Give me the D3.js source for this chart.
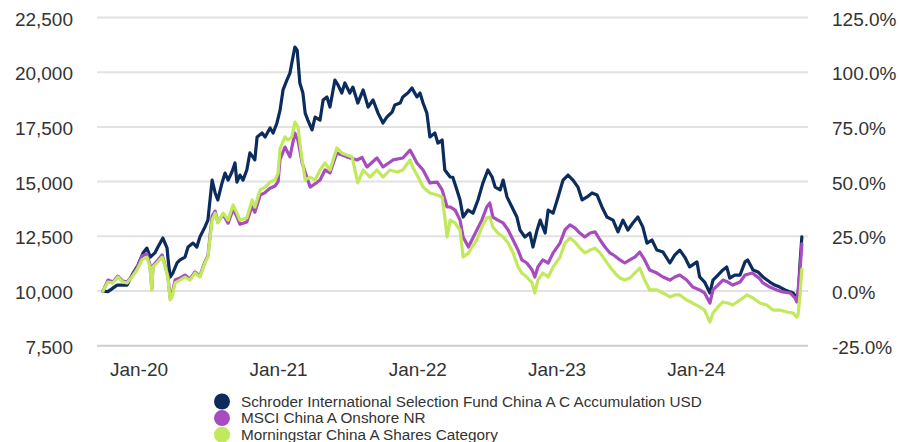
<!DOCTYPE html>
<html>
<head>
<meta charset="utf-8">
<script src="https://cdn.jsdelivr.net/npm/d3@7"></script>
<style>
  body { margin: 0; background: #fff; }
  svg { display: block; font-family: "Liberation Sans", Arial, sans-serif; }
</style>
</head>
<body>
<svg width="899" height="442"></svg>
<script>
// growth of 10,000 (USD)
const schroder = [
  ["2019-09-30",10000],["2019-10-13",9970],["2019-11-06",10270],["2019-12-02",10270],["2019-12-18",10820],
  ["2019-12-31",11190],["2020-01-13",11740],["2020-01-23",11960],["2020-02-01",11550],["2020-02-13",11740],
  ["2020-02-21",12010],["2020-03-05",12420],["2020-03-16",11960],["2020-03-18",11550],["2020-03-24",10640],
  ["2020-03-31",10820],["2020-04-11",11280],["2020-04-19",11420],["2020-05-02",11550],["2020-05-10",12010],
  ["2020-05-23",12190],["2020-06-02",12010],["2020-06-10",12470],["2020-06-23",12920],["2020-07-01",13240],
  ["2020-07-12",15070],["2020-07-20",14480],["2020-07-27",14160],["2020-08-07",14940],["2020-08-15",15390],
  ["2020-08-23",15070],["2020-09-02",15440],["2020-09-10",15850],["2020-09-15",14980],["2020-09-23",15300],
  ["2020-10-01",15070],["2020-10-11",15530],["2020-10-19",16310],["2020-10-27",16130],["2020-11-01",15990],
  ["2020-11-07",17040],["2020-11-20",17220],["2020-11-28",17040],["2020-12-11",17450],["2020-12-19",17220],
  ["2020-12-29",17680],["2021-01-06",18250],["2021-01-14",19190],["2021-01-24",19640],["2021-02-01",19960],
  ["2021-02-06",20420],["2021-02-14",21150],["2021-02-20",21010],["2021-02-27",19510],["2021-03-07",19050],
  ["2021-03-13",18130],["2021-03-20",17810],["2021-03-31",17360],["2021-04-08",17950],["2021-04-21",17810],
  ["2021-04-29",18730],["2021-05-09",18870],["2021-05-17",18410],["2021-05-30",19640],["2021-06-07",19420],
  ["2021-06-17",19050],["2021-06-25",19510],["2021-07-08",19050],["2021-07-16",19320],["2021-07-29",18590],
  ["2021-08-12",19190],["2021-08-25",18410],["2021-09-07",18730],["2021-09-20",18130],["2021-10-03",17680],
  ["2021-10-13",17950],["2021-10-27",18180],["2021-11-03",18500],["2021-11-17",18590],["2021-11-24",18870],
  ["2021-12-07",19050],["2021-12-18",19280],["2021-12-31",18870],["2022-01-08",19050],["2022-01-16",18590],
  ["2022-01-26",18130],["2022-02-03",17040],["2022-02-16",17220],["2022-02-24",16760],["2022-03-07",16900],
  ["2022-03-14",15530],["2022-03-28",15210],["2022-04-04",15200],["2022-04-15",14600],["2022-04-23",14160],
  ["2022-05-01",13380],["2022-05-14",13700],["2022-05-27",13560],["2022-06-09",14160],["2022-06-22",14940],
  ["2022-07-05",15530],["2022-07-16",15210],["2022-07-24",14750],["2022-08-06",14620],["2022-08-14",15070],
  ["2022-08-24",14300],["2022-09-06",13840],["2022-09-19",13380],["2022-09-27",12790],["2022-10-10",12470],
  ["2022-10-23",12650],["2022-10-31",12010],["2022-11-11",12790],["2022-11-19",13240],["2022-12-02",12650],
  ["2022-12-10",13700],["2022-12-23",13560],["2023-01-05",14300],["2023-01-18",15070],["2023-01-31",15300],
  ["2023-02-13",15070],["2023-02-26",14750],["2023-03-09",14160],["2023-03-22",14300],["2023-04-04",14480],
  ["2023-04-17",14390],["2023-04-30",13840],["2023-05-13",13380],["2023-05-29",13240],["2023-06-11",12700],
  ["2023-06-24",13240],["2023-07-07",12790],["2023-07-20",13110],["2023-08-02",13380],["2023-08-15",12930],
  ["2023-08-26",12190],["2023-09-08",12330],["2023-09-21",11870],["2023-10-07",11780],["2023-10-25",11280],
  ["2023-11-07",11650],["2023-11-20",11870],["2023-12-03",11550],["2023-12-16",11100],["2024-01-04",11330],
  ["2024-01-11",10640],["2024-01-24",10410],["2024-02-07",9910],["2024-02-15",10500],["2024-02-28",10730],
  ["2024-03-12",10960],["2024-03-22",11100],["2024-03-30",10590],["2024-04-12",10730],["2024-04-26",10730],
  ["2024-05-09",11330],["2024-05-16",11420],["2024-05-30",10960],["2024-06-12",10870],["2024-06-25",10640],
  ["2024-07-13",10410],["2024-07-26",10270],["2024-08-08",10180],["2024-08-22",10050],["2024-09-04",9960],
  ["2024-09-12",9910],["2024-09-22",9680],["2024-09-25",9730],["2024-09-30",11200],["2024-10-05",12470]
];

const msci = [
  ["2019-09-30",10000],["2019-10-13",10500],["2019-10-26",10410],["2019-11-08",10680],["2019-11-21",10450],
  ["2019-12-02",10410],["2019-12-15",10680],["2019-12-28",11050],["2020-01-10",11600],["2020-01-23",11690],
  ["2020-01-31",11200],["2020-02-05",10100],["2020-02-08",11150],["2020-02-21",11420],["2020-03-03",11650],
  ["2020-03-11",11150],["2020-03-18",10700],["2020-03-24",9700],["2020-03-29",9850],["2020-04-06",10500],
  ["2020-04-19",10600],["2020-05-02",10730],["2020-05-15",10550],["2020-05-28",10870],["2020-06-10",10680],
  ["2020-06-23",11330],["2020-07-01",11600],["2020-07-12",13420],["2020-07-20",13650],["2020-07-27",13150],
  ["2020-08-10",13500],["2020-08-23",13100],["2020-09-05",13750],["2020-09-15",13400],["2020-09-23",13050],
  ["2020-10-11",13150],["2020-10-25",13900],["2020-11-01",13600],["2020-11-15",14380],["2020-11-28",14500],
  ["2020-12-11",14700],["2020-12-24",14800],["2021-01-01",15000],["2021-01-06",16000],["2021-01-19",16580],
  ["2021-02-01",16130],["2021-02-14",17220],["2021-02-22",16900],["2021-03-05",15850],["2021-03-26",14750],
  ["2021-04-08",14900],["2021-04-21",15070],["2021-05-04",15530],["2021-05-17",15400],["2021-06-04",16310],
  ["2021-06-30",16130],["2021-07-27",15990],["2021-08-09",16100],["2021-08-22",15670],["2021-09-17",16080],
  ["2021-10-03",15670],["2021-10-29",15990],["2021-11-24",16080],["2021-12-13",16440],["2021-12-31",15850],
  ["2022-01-16",15530],["2022-02-03",14940],["2022-02-22",14980],["2022-03-07",14620],["2022-03-20",13840],
  ["2022-03-28",13840],["2022-04-10",13700],["2022-04-23",13240],["2022-05-01",12470],["2022-05-15",12010],
  ["2022-05-24",12330],["2022-06-06",12790],["2022-06-19",13240],["2022-07-02",13840],["2022-07-10",14020],
  ["2022-07-18",13380],["2022-07-31",13240],["2022-08-14",13110],["2022-08-27",12790],["2022-09-09",12330],
  ["2022-09-22",11870],["2022-10-02",11420],["2022-10-15",11280],["2022-10-29",10960],["2022-11-05",10640],
  ["2022-11-13",11100],["2022-11-26",11420],["2022-12-10",11280],["2022-12-23",11740],["2023-01-10",12190],
  ["2023-01-23",12790],["2023-02-05",13020],["2023-02-18",12880],["2023-03-03",12650],["2023-03-16",12470],
  ["2023-03-30",12650],["2023-04-12",12700],["2023-04-25",12330],["2023-05-08",12010],["2023-05-21",11740],
  ["2023-06-03",11600],["2023-06-16",11420],["2023-06-29",11280],["2023-07-12",11420],["2023-07-25",11550],
  ["2023-08-07",11780],["2023-08-20",11420],["2023-09-02",10960],["2023-09-21",10820],["2023-10-07",10640],
  ["2023-10-25",10500],["2023-11-07",10640],["2023-11-20",10730],["2023-12-08",10500],["2023-12-24",10180],
  ["2024-01-11",10050],["2024-01-24",9910],["2024-02-07",9450],["2024-02-15",10050],["2024-02-28",10270],
  ["2024-03-12",10500],["2024-03-25",10410],["2024-04-07",10270],["2024-04-26",10410],["2024-05-09",10730],
  ["2024-05-28",10820],["2024-06-15",10590],["2024-06-25",10370],["2024-07-13",10180],["2024-07-31",10050],
  ["2024-08-16",9960],["2024-09-04",9910],["2024-09-17",9680],["2024-09-22",9500],["2024-09-30",10900],
  ["2024-10-05",12150]
];

const category = [
  ["2019-09-30",10000],["2019-10-13",10410],["2019-10-26",10370],["2019-11-08",10640],["2019-11-21",10410],
  ["2019-12-02",10370],["2019-12-15",10640],["2019-12-28",10960],["2020-01-10",11420],["2020-01-23",11550],
  ["2020-01-31",11100],["2020-02-05",10050],["2020-02-08",11100],["2020-02-21",11330],["2020-03-03",11550],
  ["2020-03-11",11100],["2020-03-18",10640],["2020-03-24",9590],["2020-03-29",9730],["2020-04-06",10370],
  ["2020-04-19",10500],["2020-05-02",10640],["2020-05-15",10500],["2020-05-28",10820],["2020-06-10",10640],
  ["2020-06-23",11280],["2020-07-01",11550],["2020-07-12",13240],["2020-07-20",13560],["2020-07-27",13110],
  ["2020-08-10",13560],["2020-08-23",13240],["2020-09-05",13930],["2020-09-15",13560],["2020-09-23",13240],
  ["2020-10-11",13340],["2020-10-25",14160],["2020-11-01",13840],["2020-11-15",14620],["2020-11-28",14750],
  ["2020-12-11",14980],["2020-12-24",15070],["2021-01-01",15390],["2021-01-06",16500],["2021-01-19",17040],
  ["2021-01-27",16900],["2021-02-06",17040],["2021-02-14",17720],["2021-02-22",17500],["2021-03-05",15990],
  ["2021-03-13",15070],["2021-03-26",15210],["2021-04-08",15070],["2021-04-21",15530],["2021-05-04",15850],
  ["2021-05-17",15530],["2021-06-04",16540],["2021-06-17",16310],["2021-06-30",16220],["2021-07-14",16130],
  ["2021-07-29",14940],["2021-08-12",15530],["2021-08-30",15210],["2021-09-17",15530],["2021-10-03",15210],
  ["2021-10-21",15530],["2021-11-09",15440],["2021-11-24",15530],["2021-12-13",15990],["2021-12-21",15620],
  ["2022-01-03",15210],["2022-01-16",14750],["2022-02-03",14480],["2022-02-22",14390],["2022-03-07",14300],
  ["2022-03-14",13380],["2022-03-20",12470],["2022-03-28",13240],["2022-04-10",13110],["2022-04-23",12790],
  ["2022-05-01",11550],["2022-05-15",11730],["2022-05-24",12010],["2022-06-06",12330],["2022-06-19",12920],
  ["2022-07-02",13340],["2022-07-10",13380],["2022-07-18",12920],["2022-07-31",12650],["2022-08-14",12470],
  ["2022-08-27",12190],["2022-09-09",11740],["2022-09-22",11100],["2022-10-02",10820],["2022-10-15",10640],
  ["2022-10-29",10370],["2022-11-05",9910],["2022-11-13",10500],["2022-11-26",10820],["2022-12-10",10640],
  ["2022-12-23",11100],["2023-01-10",11550],["2023-01-23",12190],["2023-02-05",12420],["2023-02-18",12240],
  ["2023-03-03",11960],["2023-03-16",11740],["2023-03-30",11870],["2023-04-12",11960],["2023-04-25",11740],
  ["2023-05-08",11420],["2023-05-21",11100],["2023-06-03",10820],["2023-06-16",10590],["2023-06-29",10500],
  ["2023-07-12",10590],["2023-07-25",10820],["2023-08-07",11050],["2023-08-20",10500],["2023-09-02",10050],
  ["2023-09-21",10050],["2023-10-07",9910],["2023-10-25",9730],["2023-11-07",9820],["2023-11-20",9820],
  ["2023-12-08",9590],["2023-12-24",9450],["2024-01-11",9270],["2024-01-24",9130],["2024-02-07",8580],
  ["2024-02-15",8990],["2024-02-28",9270],["2024-03-12",9500],["2024-03-25",9450],["2024-04-07",9360],
  ["2024-04-26",9590],["2024-05-14",9820],["2024-05-30",9680],["2024-06-17",9450],["2024-07-05",9360],
  ["2024-07-21",9130],["2024-08-08",9130],["2024-08-27",9040],["2024-09-12",8990],["2024-09-22",8810],
  ["2024-09-25",8900],["2024-09-30",9800],["2024-10-05",11000]
];

const seriesNames = [
  "Schroder International Selection Fund China A C Accumulation USD",
  "MSCI China A Onshore NR",
  "Morningstar China A Shares Category"
];
const seriesColors = ["#0b2c5c", "#a64cbf", "#c2e85c"];
const yTicks = [7500, 10000, 12500, 15000, 17500, 20000, 22500];
const xTicks = ["2020-01-01", "2021-01-01", "2022-01-01", "2023-01-01", "2024-01-01"];
const startDate = "2019-09-30", endDate = "2024-10-08";
const baseValue = 10000;

const parse = d3.timeParse("%Y-%m-%d");
const svg = d3.select("svg");

const x = d3.scaleTime()
    .domain([parse(startDate), parse(endDate)])
    .range([103, 803]);

const y = d3.scaleLinear()
    .domain([7500, 22500])
    .range([345.7, 17.5]);

// gridlines
svg.append("g")
  .selectAll("line")
  .data(yTicks)
  .join("line")
    .attr("x1", 97)
    .attr("x2", 808)
    .attr("y1", d => y(d))
    .attr("y2", d => y(d))
    .attr("stroke", d => d === 7500 ? "#cdcdcd" : "#e2e2e2")
    .attr("stroke-width", 2);

const fmtLeft = d3.format(",");
// plain hyphen for negatives, like the source
const fmtRight = d => ((d / baseValue - 1) * 100).toFixed(1) + "%";

const styleAxis = g => {
  g.select(".domain").remove();
  g.selectAll(".tick line").remove();
  g.selectAll("text")
    .attr("fill", "#333")
    .style("font-size", "19px")
    .style("font-family", "'Liberation Sans', Arial, sans-serif");
};

svg.append("g")
    .attr("transform", "translate(73,0)")
    .call(d3.axisLeft(y).tickValues(yTicks).tickFormat(fmtLeft).tickSize(0).tickPadding(0))
    .call(styleAxis)
    .call(g => g.selectAll("text").attr("dy", "0.4em"));

svg.append("g")
    .attr("transform", "translate(832,0)")
    .call(d3.axisRight(y).tickValues(yTicks).tickFormat(fmtRight).tickSize(0).tickPadding(0))
    .call(styleAxis)
    .call(g => g.selectAll("text").attr("dy", "0.4em"));

svg.append("g")
    .attr("transform", "translate(0,362)")
    .call(d3.axisBottom(x).tickValues(xTicks.map(parse)).tickFormat(d3.timeFormat("%b-%y")).tickSize(0).tickPadding(0))
    .call(styleAxis)
    .call(g => g.selectAll("text").attr("dy", "0.76em"));

// lines
const line = d3.line()
    .x(d => x(parse(d[0])))
    .y(d => y(d[1]))
    .curve(d3.curveLinear);

const allSeries = [schroder, msci, category];

svg.append("g")
  .selectAll("path")
  .data(allSeries)
  .join("path")
    .attr("d", line)
    .attr("fill", "none")
    .attr("stroke", (d, i) => seriesColors[i])
    .attr("stroke-width", 3.2)
    .attr("stroke-linejoin", "round")
    .attr("stroke-linecap", "round");

// legend
const legend = svg.append("g")
  .selectAll("g")
  .data(seriesNames)
  .join("g")
    .attr("transform", (d, i) => `translate(222,${401.5 + i * 16.6})`);

legend.append("circle")
    .attr("r", 8)
    .attr("fill", (d, i) => seriesColors[i]);

legend.append("text")
    .attr("x", 19)
    .attr("y", 5.2)
    .attr("fill", "#333")
    .style("font-size", "15.3px")
    .text(d => d);
</script>
</body>
</html>
